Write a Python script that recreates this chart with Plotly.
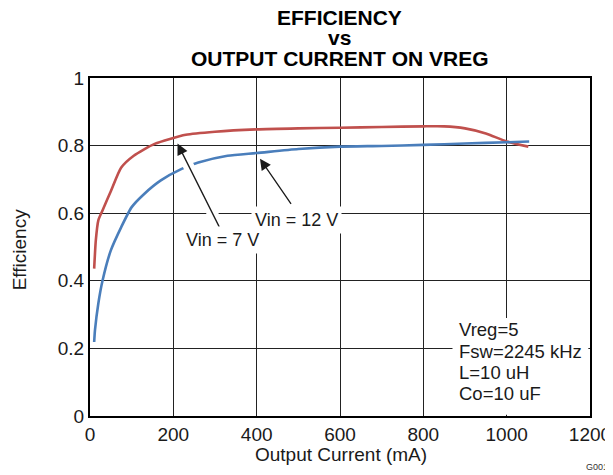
import plotly.graph_objects as go

# Data
vin7_current = [10, 14, 20, 30, 50, 75, 105, 155, 230, 300, 400, 500, 600, 700, 800, 850, 900, 950, 1000, 1052]
vin7_eff = [0.436, 0.52, 0.579, 0.608, 0.665, 0.735, 0.77, 0.805, 0.832, 0.841, 0.848, 0.851, 0.853, 0.855, 0.857, 0.857, 0.851, 0.836, 0.812, 0.797]

vin12_current = [10, 12, 20, 30, 50, 75, 100, 130, 170, 220, 260, 330, 400, 500, 600, 700, 800, 900, 1000, 1054]
vin12_eff = [0.219, 0.255, 0.333, 0.40, 0.49, 0.559, 0.618, 0.657, 0.697, 0.731, 0.75, 0.77, 0.778, 0.79, 0.797, 0.799, 0.802, 0.806, 0.81, 0.812]

x_ticks = [0, 200, 400, 600, 800, 1000, 1200]
y_ticks = [0, 0.2, 0.4, 0.6, 0.8, 1]
y_tick_labels = ["0", "0.2", "0.4", "0.6", "0.8", "1"]

title_lines = ["EFFICIENCY", "vs", "OUTPUT CURRENT ON VREG"]
note_lines = ["Vreg=5", "Fsw=2245 kHz", "L=10 uH", "Co=10 uF"]

FONT = "Liberation Sans, Arial, Helvetica, sans-serif"
TXT = "#1a1a1a"

fig = go.Figure()
fig.add_trace(go.Scatter(x=vin7_current, y=vin7_eff, mode="lines",
                         line=dict(color="#C0504D", width=2.6, shape="spline", smoothing=0.6),
                         name="Vin = 7 V"))
fig.add_trace(go.Scatter(x=vin12_current, y=vin12_eff, mode="lines",
                         line=dict(color="#4A7EBB", width=2.6, shape="spline", smoothing=0.6),
                         name="Vin = 12 V"))

# plot area on screen (page has an 8 px body margin): x 90..590.5, y 77.5..416
def py2paper(py):
    return (416 - py) / 338.5

def px2paper(px):
    return (px - 90) / 500.5

annotations = []
# title lines
for txt, py in zip(title_lines, [17, 37, 58]):
    annotations.append(dict(x=px2paper(340), y=py2paper(py), xref="paper", yref="paper",
                            xanchor="center", yanchor="middle", text="<b>%s</b>" % txt,
                            showarrow=False, font=dict(size=21, color="black", family=FONT)))
# axis titles
annotations.append(dict(x=px2paper(341), y=py2paper(455), xref="paper", yref="paper",
                        xanchor="center", yanchor="middle", text="Output Current (mA)",
                        showarrow=False, font=dict(size=19, color=TXT, family=FONT)))
annotations.append(dict(x=px2paper(19), y=py2paper(250), xref="paper", yref="paper",
                        xanchor="center", yanchor="middle", text="Efficiency", textangle=-90,
                        showarrow=False, font=dict(size=19, color=TXT, family=FONT)))
# white halo cutting the blue line beneath the Vin = 7 V arrow
annotations.append(dict(x=222, y=0.775, ax=312, ay=0.555, xref="x", yref="y", axref="x", ayref="y",
                        text="", showarrow=True, arrowhead=0, arrowwidth=11, arrowcolor="white"))
# arrows
annotations.append(dict(x=210, y=0.806, ax=312, ay=0.555, xref="x", yref="y", axref="x", ayref="y",
                        text="", showarrow=True, arrowhead=2, arrowsize=1.7, arrowwidth=1.3,
                        arrowcolor="#1a1a1a"))
annotations.append(dict(x=408, y=0.761, ax=485, ay=0.623, xref="x", yref="y", axref="x", ayref="y",
                        text="", showarrow=True, arrowhead=2, arrowsize=1.7, arrowwidth=1.3,
                        arrowcolor="#1a1a1a"))
# curve labels
annotations.append(dict(x=496, y=0.579, xref="x", yref="y", text="Vin = 12 V", showarrow=False,
                        bgcolor="white", borderpad=3, font=dict(size=18, color=TXT, family=FONT)))
annotations.append(dict(x=317, y=0.52, xref="x", yref="y", text="Vin = 7 V", showarrow=False,
                        bgcolor="white", borderpad=3, font=dict(size=18, color=TXT, family=FONT)))
# note block lines
for txt, py in zip(note_lines, [329, 351, 372, 393]):
    annotations.append(dict(x=px2paper(457), y=py2paper(py), xref="paper", yref="paper",
                            xanchor="left", yanchor="middle", text=txt, showarrow=False,
                            font=dict(size=18.5, color=TXT, family=FONT)))
annotations.append(dict(x=px2paper(611), y=py2paper(467), xref="paper", yref="paper",
                        xanchor="right", yanchor="middle", text="G001", showarrow=False,
                        font=dict(size=9, color="#333", family=FONT)))

shapes = [dict(type="rect", xref="x", yref="y", x0=870, x1=1196, y0=0.004, y1=0.29,
               fillcolor="white", line=dict(width=0), layer="above")]

fig.update_layout(
    width=605, height=467,
    margin=dict(l=82, r=22.5, t=69.5, b=59, autoexpand=False),
    paper_bgcolor="white", plot_bgcolor="white",
    showlegend=False,
    font=dict(family=FONT, color=TXT),
    annotations=annotations,
    shapes=shapes,
)
fig.update_xaxes(range=[0, 1200], tickvals=x_ticks, showgrid=True, gridcolor="#222", gridwidth=1,
                 showline=True, linecolor="black", linewidth=2, mirror=True, zeroline=False,
                 ticks="", automargin=False, tickfont=dict(size=19, color=TXT))
fig.update_yaxes(range=[0, 1], tickvals=y_ticks, ticktext=y_tick_labels, showgrid=True,
                 gridcolor="#222", gridwidth=1,
                 showline=True, linecolor="black", linewidth=2, mirror=True, zeroline=False,
                 ticks="", automargin=False, tickfont=dict(size=19, color=TXT))

fig.write_html("out.html")
